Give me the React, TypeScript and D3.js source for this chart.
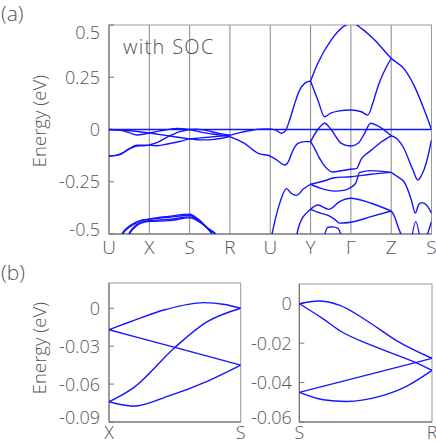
import React from 'react';
import * as d3 from 'd3';

// high-symmetry path for panel (a)
const kLabelsA = ['U', 'X', 'S', 'R', 'U', 'Y', 'Γ', 'Z', 'S'];
const yTicksA = [0.5, 0.25, 0, -0.25, -0.5];
const yTickTextA = ['0.5', '0.25', '0', '-0.25', '-0.5'];

const yTicksBL = [0, -0.03, -0.06, -0.09];
const yTickTextBL = ['0', '-0.03', '-0.06', '-0.09'];
const yTicksBR = [0, -0.02, -0.04, -0.06];
const yTickTextBR = ['0', '-0.02', '-0.04', '-0.06'];

// X -> S (fraction of the segment, energy eV), also used in panel (b)
const bandXS1 = [[0, -0.017], [0.18, -0.01], [0.43, -0.001], [0.72, 0.0045], [0.88, 0.003], [1, 0]];
const bandXS2 = [[0, -0.017], [0.5, -0.031], [1, -0.045]];
const bandXS3 = [[0, -0.074], [0.185, -0.063], [0.5, -0.031], [0.74, -0.011], [1, 0]];
const bandXS4 = [[0, -0.074], [0.185, -0.0775], [0.45, -0.0695], [0.75, -0.0576], [1, -0.045]];

// S -> R
const bandSRA = [[0, 0], [0.143, 0.0014], [0.306, -0.0008], [0.506, -0.0085], [0.732, -0.0187], [1, -0.0277]];
const bandSRB = [[0, 0], [0.18, -0.0077], [0.306, -0.0137], [0.556, -0.0214], [0.882, -0.03], [1, -0.0338]];
const bandSRC = [[0, -0.045], [1, -0.0277]];
const bandSRD = [[0, -0.045], [0.18, -0.0487], [0.356, -0.0496], [0.606, -0.047], [0.807, -0.0419], [1, -0.0338]];

// remaining bands of panel (a), [k, E]
const bandUX1 = [[0, 0], [0.3, -0.004], [0.5, -0.015], [0.69, -0.026], [0.85, -0.023], [1, -0.017]];
const bandUX2 = [[0, 0], [0.5, -0.006], [1, -0.017]];
const bandUX3 = [[0, -0.127], [0.15, -0.124], [0.315, -0.114], [0.5, -0.092], [0.69, -0.075], [1, -0.075]];
const bandUX4 = [[0, -0.127], [0.15, -0.125], [0.315, -0.116], [0.5, -0.094], [0.69, -0.079], [0.85, -0.078], [1, -0.075]];

const bandUR1 = [[0.22, -0.56], [0.31, -0.505], [0.45, -0.47], [0.56, -0.455], [0.77, -0.436], [1, -0.428], [1.47, -0.416], [2, -0.405], [2.22, -0.43], [2.46, -0.473], [2.67, -0.505], [2.75, -0.56]];
const bandUR2 = [[0.24, -0.56], [0.33, -0.505], [0.47, -0.472], [0.58, -0.458], [0.77, -0.438], [1, -0.43], [1.5, -0.42], [2, -0.41], [2.23, -0.435], [2.48, -0.48], [2.68, -0.51], [2.76, -0.56]];
const bandUR3 = [[0.4, -0.56], [0.48, -0.505], [0.6, -0.47], [0.77, -0.446], [1, -0.436], [1.5, -0.43], [2, -0.418], [2.25, -0.44], [2.5, -0.485], [2.72, -0.56]];
const bandUR4 = [[0.42, -0.56], [0.5, -0.505], [0.62, -0.472], [0.78, -0.449], [1, -0.439], [1.5, -0.436], [2, -0.423], [2.27, -0.446], [2.52, -0.49], [2.74, -0.56]];

const bandRUY1 = [[3, -0.028], [3.25, -0.015], [3.5, -0.005], [3.75, 0.002], [4, 0.003], [4.15, -0.004], [4.28, -0.018], [4.38, -0.005], [4.48, 0.045], [4.6, 0.12], [4.72, 0.185], [4.86, 0.222], [5, 0.232]];
const bandRUY2 = [[3, -0.034], [3.37, -0.068], [3.7, -0.114], [4, -0.127], [4.16, -0.146], [4.36, -0.17], [4.46, -0.15], [4.55, -0.105], [4.69, -0.066], [4.85, -0.058], [5, -0.058]];
const bandUY3 = [[3.98, -0.56], [4.1, -0.45], [4.24, -0.35], [4.4, -0.283], [4.52, -0.305], [4.65, -0.315], [4.82, -0.285], [5, -0.262]];
const bandUY4 = [[4.6, -0.56], [4.7, -0.47], [4.77, -0.433], [4.9, -0.4], [5, -0.382]];

const bandYZ1 = [[5, 0.232], [5.18, 0.317], [5.51, 0.428], [5.85, 0.497], [6.05, 0.508], [6.26, 0.484], [6.59, 0.428], [7, 0.341], [7.34, 0.285], [7.58, 0.205], [7.79, 0.109], [8, 0]];
const bandYZ2 = [[5, 0.232], [5.18, 0.141], [5.35, 0.061], [5.5, 0.078], [5.68, 0.088], [6, 0.093], [6.26, 0.085], [6.42, 0.069], [6.55, 0.13], [6.67, 0.205], [7, 0.341]];
const bandYZ3 = [[5, -0.058], [5.18, 0], [5.35, 0.03], [5.51, 0], [5.76, -0.066], [6, -0.079], [6.18, -0.066], [6.34, -0.018], [6.49, 0.03], [6.67, 0.017], [7, -0.03]];
const bandYZ4 = [[5, -0.058], [5.1, -0.09], [5.2, -0.13], [5.35, -0.175], [5.55, -0.203], [5.8, -0.196], [6, -0.19], [6.14, -0.187], [6.26, -0.14], [6.4, -0.115], [6.5, -0.1], [6.75, -0.06], [7, -0.03]];
const bandYZ5 = [[5, -0.262], [5.35, -0.245], [5.59, -0.231], [6, -0.226], [6.5, -0.214], [7, -0.205]];
const bandYZ6 = [[5, -0.262], [5.26, -0.282], [5.59, -0.295], [5.85, -0.29], [6, -0.277], [6.12, -0.257], [6.22, -0.205], [6.5, -0.197], [7, -0.205]];
const bandYZ7 = [[5, -0.382], [5.18, -0.361], [5.45, -0.382], [5.72, -0.345], [6, -0.329], [6.5, -0.353], [7, -0.39]];
const bandYZ8 = [[5, -0.382], [5.26, -0.401], [5.45, -0.412], [5.6, -0.43], [5.72, -0.448], [6, -0.444], [6.5, -0.417], [7, -0.39]];
const bandYG9 = [[5.28, -0.56], [5.43, -0.468], [5.55, -0.466], [5.68, -0.473], [5.83, -0.56]];

const bandZS2 = [[7, -0.03], [7.15, -0.045], [7.3, -0.085], [7.54, -0.194], [7.66, -0.242], [7.75, -0.22], [7.87, -0.16], [8, -0.05]];
const bandZS3 = [[7, -0.205], [7.15, -0.225], [7.34, -0.257], [7.5, -0.337], [7.6, -0.4], [7.68, -0.36], [7.76, -0.35], [7.87, -0.36], [8, -0.4]];
const bandZS4 = [[7, -0.39], [7.08, -0.415], [7.17, -0.465], [7.26, -0.513], [7.32, -0.56]];
const bandZS5 = [[7.48, -0.56], [7.61, -0.441], [7.74, -0.56]];
const bandZS6 = [[7.82, -0.56], [7.92, -0.49], [8, -0.44]];

const bandsXS = [bandXS1, bandXS2, bandXS3, bandXS4];
const bandsSR = [bandSRA, bandSRB, bandSRC, bandSRD];
const bandsA = [
  bandUX1, bandUX2, bandUX3, bandUX4, bandUR1, bandUR2, bandUR3, bandUR4,
  bandRUY1, bandRUY2, bandUY3, bandUY4,
  bandYZ1, bandYZ2, bandYZ3, bandYZ4, bandYZ5, bandYZ6, bandYZ7, bandYZ8, bandYG9,
  bandZS2, bandZS3, bandZS4, bandZS5, bandZS6,
];

const BLUE = '#1414ff';
const GRAY = '#555';
const FONT = "'Open Sans', 'DejaVu Sans', sans-serif";

function Frame({ x, y, tickValues, tickText, labelGap }) {
  const [x0, x1] = x.range();
  const [y0, y1] = y.range(); // bottom, top
  return (
    <g>
      <rect x={x0} y={y1} width={x1 - x0} height={y0 - y1} fill="none" stroke="#999" strokeWidth={1} />
      <line x1={x0} x2={x0} y1={y1} y2={y0} stroke="#666" />
      <line x1={x0} x2={x1} y1={y0} y2={y0} stroke="#666" />
      {tickValues.map((v, i) => {
        const ty = y(v);
        const ly = Math.min(Math.max(ty, y1 + 7.5), y0 - 4.5);
        return (
          <g key={i}>
            <line x1={x0} x2={x0 + 5} y1={ty} y2={ty} stroke="#777" />
            <text x={x0 - labelGap} y={ly} dy="0.36em" textAnchor="end" fontSize={18} fill={GRAY}
              fontFamily={FONT} fontWeight={300}>{tickText[i]}</text>
          </g>
        );
      })}
    </g>
  );
}

export default function App() {
  const xA = d3.scaleLinear().domain([0, 8]).range([109, 431.5]);
  const yA = d3.scaleLinear().domain([-0.5, 0.5]).range([234, 25]);
  const lineA = d3.line().x((d) => xA(d[0])).y((d) => yA(d[1])).curve(d3.curveMonotoneX);

  const xBL = d3.scaleLinear().domain([0, 1]).range([109, 240.7]);
  const yBL = d3.scaleLinear().domain([-0.09, 0.02]).range([422, 283]);
  const lineBL = d3.line().x((d) => xBL(d[0])).y((d) => yBL(d[1])).curve(d3.curveMonotoneX);

  const xBR = d3.scaleLinear().domain([0, 1]).range([299.3, 432]);
  const yBR = d3.scaleLinear().domain([-0.06, 0.01]).range([422, 284]);
  const lineBR = d3.line().x((d) => xBR(d[0])).y((d) => yBR(d[1])).curve(d3.curveMonotoneX);

  const pathsA = [
    ...bandsA,
    ...bandsXS.map((b) => b.map(([t, e]) => [1 + t, e])),
    ...bandsSR.map((b) => b.map(([t, e]) => [2 + t, e])),
  ];

  const textStyle = { fontFamily: FONT, fontWeight: 300, fill: GRAY };

  return (
    <svg width={436} height={444} style={{ position: 'absolute', left: 0, top: 0, background: '#fff' }}>
      <defs>
        <clipPath id="clipA"><rect x={109} y={25} width={322.5} height={209} /></clipPath>
        <clipPath id="clipBL"><rect x={109} y={283} width={131.7} height={139} /></clipPath>
        <clipPath id="clipBR"><rect x={299.3} y={284} width={132.7} height={138} /></clipPath>
      </defs>

      {/* panel (a) */}
      <text x={1} y={21} fontSize={21} {...textStyle}>(a)</text>
      {kLabelsA.map((lab, i) => (
        <g key={i}>
          {i > 0 && i < 8 && <line x1={xA(i)} x2={xA(i)} y1={25} y2={234} stroke="#888" />}
          <text x={xA(i)} y={254} textAnchor="middle" fontSize={19} {...textStyle}>{lab}</text>
        </g>
      ))}
      <Frame x={xA} y={yA} tickValues={yTicksA} tickText={yTickTextA} labelGap={9} />
      <text transform="translate(46,121) rotate(-90)" textAnchor="middle" fontSize={18.5} {...textStyle}>Energy (eV)</text>
      <text x={123} y={54} fontSize={20} letterSpacing={1.3} {...textStyle}>with SOC</text>
      <g clipPath="url(#clipA)">
        <line x1={xA(0)} x2={xA(8)} y1={yA(0)} y2={yA(0)} stroke={BLUE} strokeWidth={1.3} />
        {pathsA.map((b, i) => (
          <path key={i} d={lineA(b)} fill="none" stroke={BLUE} strokeWidth={1.4} />
        ))}
      </g>

      {/* panel (b) */}
      <text x={1} y={280} fontSize={21} {...textStyle}>(b)</text>
      <Frame x={xBL} y={yBL} tickValues={yTicksBL} tickText={yTickTextBL} labelGap={9} />
      <text transform="translate(46,348) rotate(-90)" textAnchor="middle" fontSize={18.5} {...textStyle}>Energy (eV)</text>
      <text x={xBL(0)} y={439} textAnchor="middle" fontSize={18} {...textStyle}>X</text>
      <text x={xBL(1)} y={439} textAnchor="middle" fontSize={18} {...textStyle}>S</text>
      <g clipPath="url(#clipBL)">
        {bandsXS.map((b, i) => (
          <path key={i} d={lineBL(b)} fill="none" stroke={BLUE} strokeWidth={1.4} />
        ))}
      </g>

      <Frame x={xBR} y={yBR} tickValues={yTicksBR} tickText={yTickTextBR} labelGap={7.5} />
      <text x={xBR(0)} y={439} textAnchor="middle" fontSize={18} {...textStyle}>S</text>
      <text x={xBR(1)} y={439} textAnchor="middle" fontSize={18} {...textStyle}>R</text>
      <g clipPath="url(#clipBR)">
        {bandsSR.map((b, i) => (
          <path key={i} d={lineBR(b)} fill="none" stroke={BLUE} strokeWidth={1.4} />
        ))}
      </g>
    </svg>
  );
}
